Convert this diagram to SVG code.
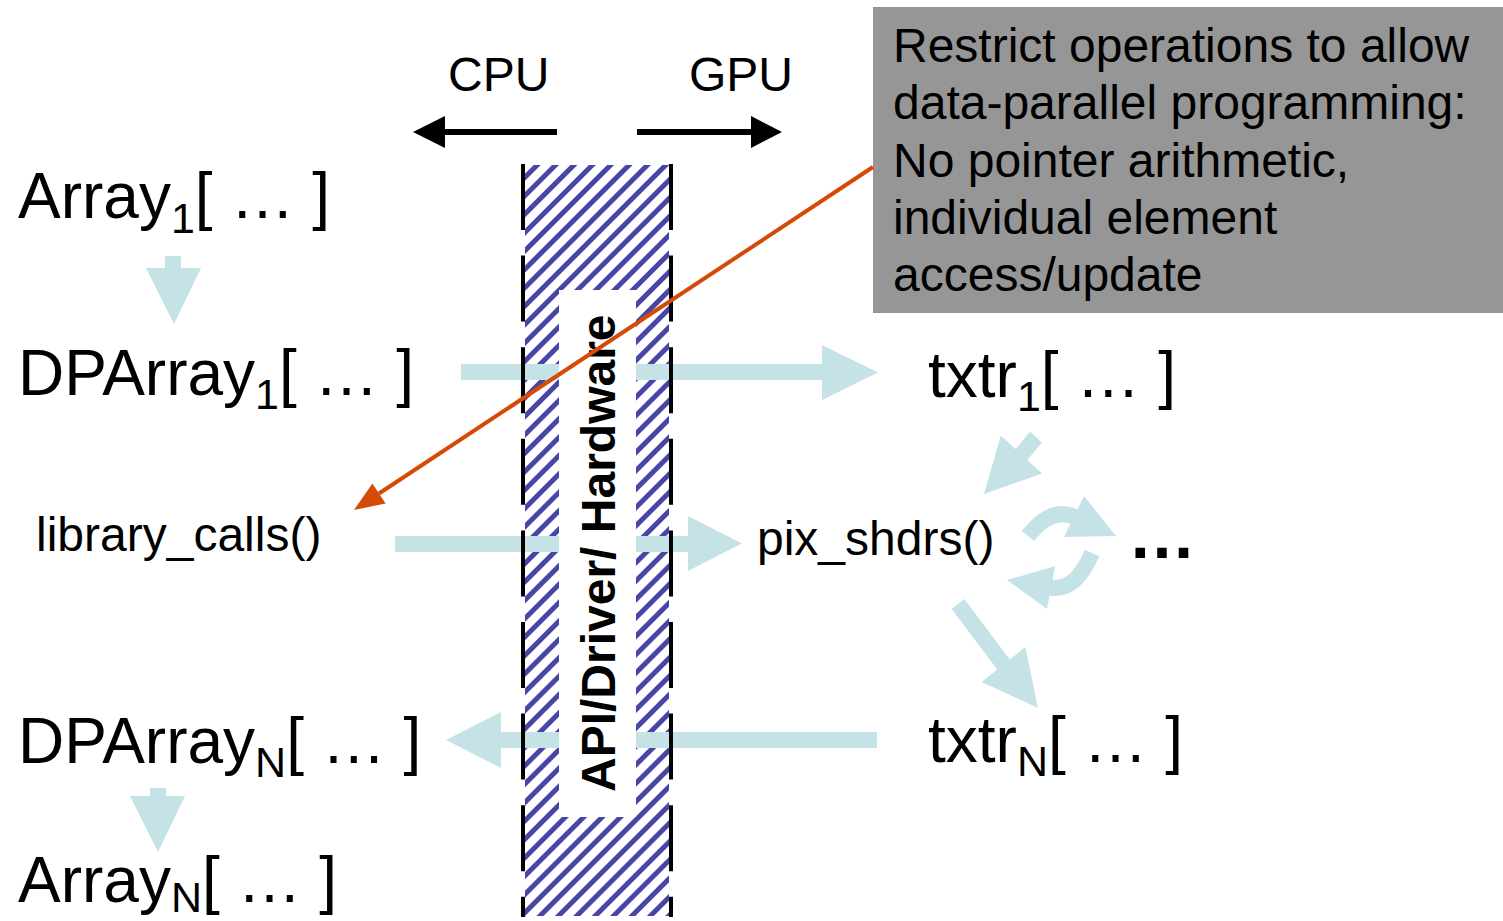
<svg xmlns="http://www.w3.org/2000/svg" width="1503" height="921" viewBox="0 0 1503 921">
<style>
  .t { font-family: "Liberation Sans", Arial, sans-serif; fill: #000; }
  .big { font-size: 64px; }
  .mid { font-size: 48px; }
  .note { font-size: 48px; }
  .lb { fill: #C5E3E7; }
  .lbs { fill: none; stroke: #C5E3E7; stroke-width: 16; }
  .blk { fill: #000; }
  .edge { stroke: #000; stroke-width: 4; stroke-dasharray: 66 25.6; fill: none; }
</style>
<defs>
  <pattern id="hatch" patternUnits="userSpaceOnUse" width="13" height="13" patternTransform="rotate(-45)">
    <rect x="0" y="0" width="13" height="5" fill="#4646A6"/>
  </pattern>
</defs>
<rect width="1503" height="921" fill="#fff"/>

<g id="api-band">
  <rect x="525" y="165" width="144" height="751" fill="url(#hatch)"/>
</g>

<g id="note">
  <rect x="873" y="7" width="630" height="306" fill="#969696"/>
  <text class="t note" x="893" y="62">Restrict operations to allow</text>
  <text class="t note" x="893" y="119">data-parallel programming:</text>
  <text class="t note" x="893" y="177">No pointer arithmetic,</text>
  <text class="t note" x="893" y="234">individual element</text>
  <text class="t note" x="893" y="291">access/update</text>
</g>

<g id="array1"><text class="t big" x="18" y="218">Array<tspan font-size="43" dy="15">1</tspan><tspan dy="-15">[ … ]</tspan></text></g>
<g id="dparray1"><text class="t big" x="18" y="395">DPArray<tspan font-size="43" dy="14">1</tspan><tspan dy="-14">[ … ]</tspan></text></g>
<g id="library_calls"><text class="t mid" x="36" y="551">library_calls()</text></g>
<g id="dparrayN"><text class="t big" x="18" y="763">DPArray<tspan font-size="43" dy="14">N</tspan><tspan dy="-14">[ … ]</tspan></text></g>
<g id="arrayN"><text class="t big" x="18" y="902">Array<tspan font-size="43" dy="10">N</tspan><tspan dy="-10">[ … ]</tspan></text></g>
<g id="txtr1"><text class="t big" x="928" y="397">txtr<tspan font-size="43" dy="14">1</tspan><tspan dy="-14">[ … ]</tspan></text></g>
<g id="pix_shdrs"><text class="t mid" x="757" y="555">pix_shdrs()</text></g>
<g id="txtrN"><text class="t big" x="928" y="762">txtr<tspan font-size="43" dy="14">N</tspan><tspan dy="-14">[ … ]</tspan></text></g>
<g id="ellipsis"><text class="t" x="1128" y="558" font-size="68" font-weight="bold">…</text></g>
<g id="cpu"><text class="t mid" x="448" y="91">CPU</text></g>
<g id="gpu"><text class="t mid" x="689" y="91">GPU</text></g>

<g id="connectors">
  <polygon class="lb" points="165,256 181,256 181,268 201,268 174,324 146,268 165,268"/>
  <polygon class="lb" points="150,788 166,788 166,796 185,796 158,852 130,796 150,796"/>
  <polygon class="lb" points="461,364 822,364 822,345 878,372.5 822,400 822,380 461,380"/>
  <polygon class="lb" points="395,536 688,536 688,516 742,543.5 688,571 688,552 395,552"/>
  <polygon class="lb" points="877,732 501,732 501,712 446,740 501,768 501,748 877,748"/>
  <polygon class="lb" points="1030.1,431.6 1015.6,449.1 1000.8,435.6 984,494 1042.2,473.4 1027.4,459.9 1041.9,442.4"/>
  <polygon class="lb" points="964.3,599 1009.8,659.5 1025.4,647.1 1038,708 981.6,681.9 997.2,669.5 951.7,609"/>
  <path class="lbs" d="M1028,536 Q1051.5,505.5 1076,517.5"/>
  <polygon class="lb" points="1084,496 1116,536 1064,537"/>
  <path class="lbs" d="M1092,553 Q1075.6,592 1050,587.5"/>
  <polygon class="lb" points="1055,566 1007,580 1047,609"/>
  <rect class="blk" x="444" y="129" width="113" height="6"/>
  <polygon class="blk" points="413,132 445,116 445,148"/>
  <rect class="blk" x="637" y="129" width="115" height="6"/>
  <polygon class="blk" points="782,132 751,116 751,148"/>
</g>

<g id="api-label">
  <rect x="559" y="290" width="77" height="527" fill="#fff"/>
  <text class="t" x="615" y="792" font-size="48" font-weight="bold" transform="rotate(-90 615 792)">API/Driver/ Hardware</text>
</g>

<g id="api-edges">
  <line class="edge" x1="523" y1="164" x2="523" y2="917"/>
  <line class="edge" x1="671" y1="164" x2="671" y2="917"/>
</g>

<g id="note-pointer">
  <line x1="873" y1="167" x2="379" y2="493.5" stroke="#D54A05" stroke-width="4"/>
  <polygon points="354,510 372.4,483.5 385.6,503.5" fill="#D54A05"/>
</g>
</svg>
